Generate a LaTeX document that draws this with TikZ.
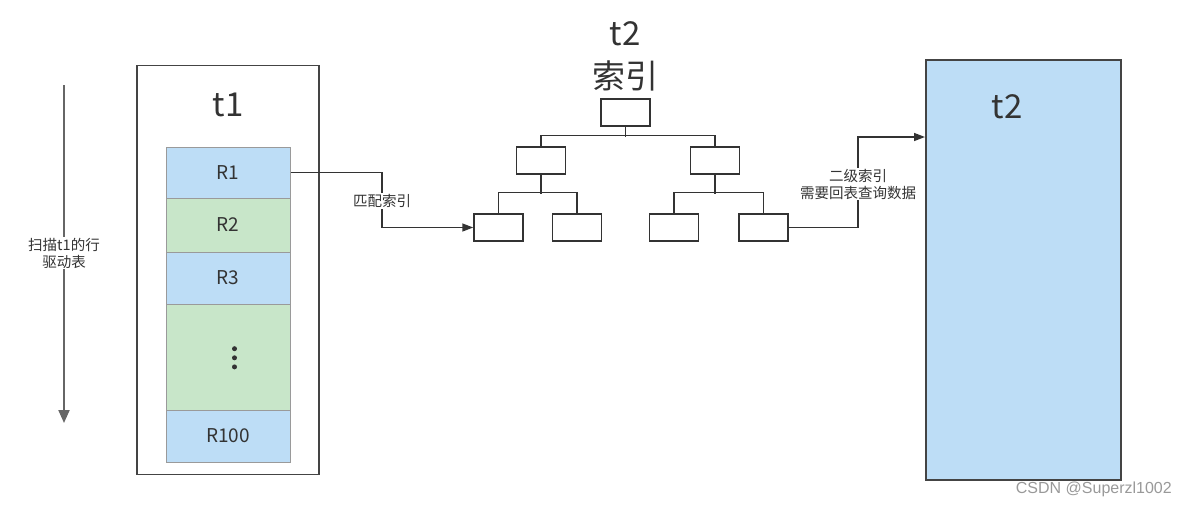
\documentclass[tikz,border=0pt]{standalone}
\usepackage{fontspec}
\setmainfont{Noto Sans CJK SC}
\newfontfamily\wmfont{Liberation Sans}
\usetikzlibrary{arrows.meta}
\definecolor{rowblue}{HTML}{BDDDF6}
\definecolor{rowgreen}{HTML}{C8E6C9}
\definecolor{ink}{HTML}{333333}
\definecolor{rowline}{HTML}{9A9A9A}
\definecolor{boxline}{HTML}{444444}
\definecolor{arrowgray}{HTML}{666666}
\definecolor{wm}{HTML}{999999}
\tikzset{
  rowbox/.style={draw=rowline, line width=1pt, minimum width=124pt, inner sep=0pt, text=ink, font=\fontsize{19}{22}\selectfont},
  treebox/.style={draw=ink, line width=1.5pt, minimum width=49pt, minimum height=27pt, inner sep=0pt},
  treeline/.style={draw=ink, line width=1.5pt},
  conn/.style={draw=ink, line width=1.5pt},
  connarrow/.style={conn, -{Triangle[length=11pt,width=8pt]}},
  lbl/.style={fill=white, inner sep=1pt, text=ink, align=center, font=\fontsize{14.5}{17}\selectfont},
  bigtxt/.style={text=ink, inner sep=0pt, font=\fontsize{33}{36}\selectfont},
  dot/.style={fill=ink, draw=none},
}
\begin{document}
\begin{tikzpicture}[x=1pt,y=-1pt]
\useasboundingbox (0,0) rectangle (1187,507);
% scan arrow
\coordinate (sa) at (64,85);
\coordinate (sb) at (64,423);
\draw[arrowgray, line width=2pt, -{Triangle[length=13pt,width=11pt]}] (sa) -- (sb);
\node[lbl, text=ink] (scan) at (64,253) {扫描t1的行\\驱动表};
% t1 box
\node[draw=boxline, line width=1.5pt, minimum width=182pt, minimum height=409pt, inner sep=0pt] (t1box) at (228,270) {};
\node[bigtxt] (t1) at (228,105) {t1};
\node[rowbox, fill=rowblue, minimum height=51pt] (R1) at (228,172.5) {R1};
\node[rowbox, fill=rowgreen, minimum height=54pt] (R2) at (228,225) {R2};
\node[rowbox, fill=rowblue, minimum height=52pt] (R3) at (228,278) {R3};
\node[rowbox, fill=rowgreen, minimum height=106pt] (Rd) at (228,357) {};
\fill[dot] (234.5,348.7) circle (2.5pt);
\fill[dot] (234.5,357.8) circle (2.5pt);
\fill[dot] (234.5,366.9) circle (2.5pt);
\node[rowbox, fill=rowblue, minimum height=52pt] (R100) at (228,436) {R100};
% index title
\node[bigtxt] (t2i) at (625,34) {t2};
\node[bigtxt] (idx) at (625,76) {索引};
% tree
\node[treebox] (root) at (625.5,112.5) {};
\node[treebox] (L) at (541,160.5) {};
\node[treebox] (R) at (715,160.5) {};
\node[treebox] (leaf1) at (498.5,227.5) {};
\node[treebox] (leaf2) at (577,227.5) {};
\node[treebox] (leaf3) at (674,227.5) {};
\node[treebox] (leaf4) at (763.5,227.5) {};
\draw[treeline] (root.south) -- ++(0,10);
\draw[treeline] (L.north) -- ++(0,-11) -| (R.north);
\draw[treeline] (L.south) -- ++(0,19);
\draw[treeline] (leaf1.north) -- ++(0,-21) -| (leaf2.north);
\draw[treeline] (R.south) -- ++(0,19);
\draw[treeline] (leaf3.north) -- ++(0,-21) -| (leaf4.north);
% t2 table
\node[draw=boxline, fill=rowblue, line width=2pt, minimum width=195pt, minimum height=420pt, inner sep=0pt] (t2box) at (1023.5,270) {};
\node[bigtxt] (t2) at (1007,107) {t2};
% connector 1
\coordinate (m1) at (382,200);
\draw[connarrow] (R1.east) -- (R1.east -| m1) -- (m1 |- leaf1.west) -- (leaf1.west);
\node[lbl] (l1) at (382,201) {匹配索引};
% connector 2
\coordinate (m2) at (858,137);
\draw[connarrow] (leaf4.east) -| (m2) -- (m2 -| t2box.west);
\node[lbl] (l2) at (858,184) {二级索引\\需要回表查询数据};
% watermark
\node[text=wm, inner sep=0pt, anchor=east, font=\wmfont\fontsize{16}{18}\selectfont] (wmk) at (1172,489) {CSDN @Superzl1002};
\end{tikzpicture}
\end{document}
